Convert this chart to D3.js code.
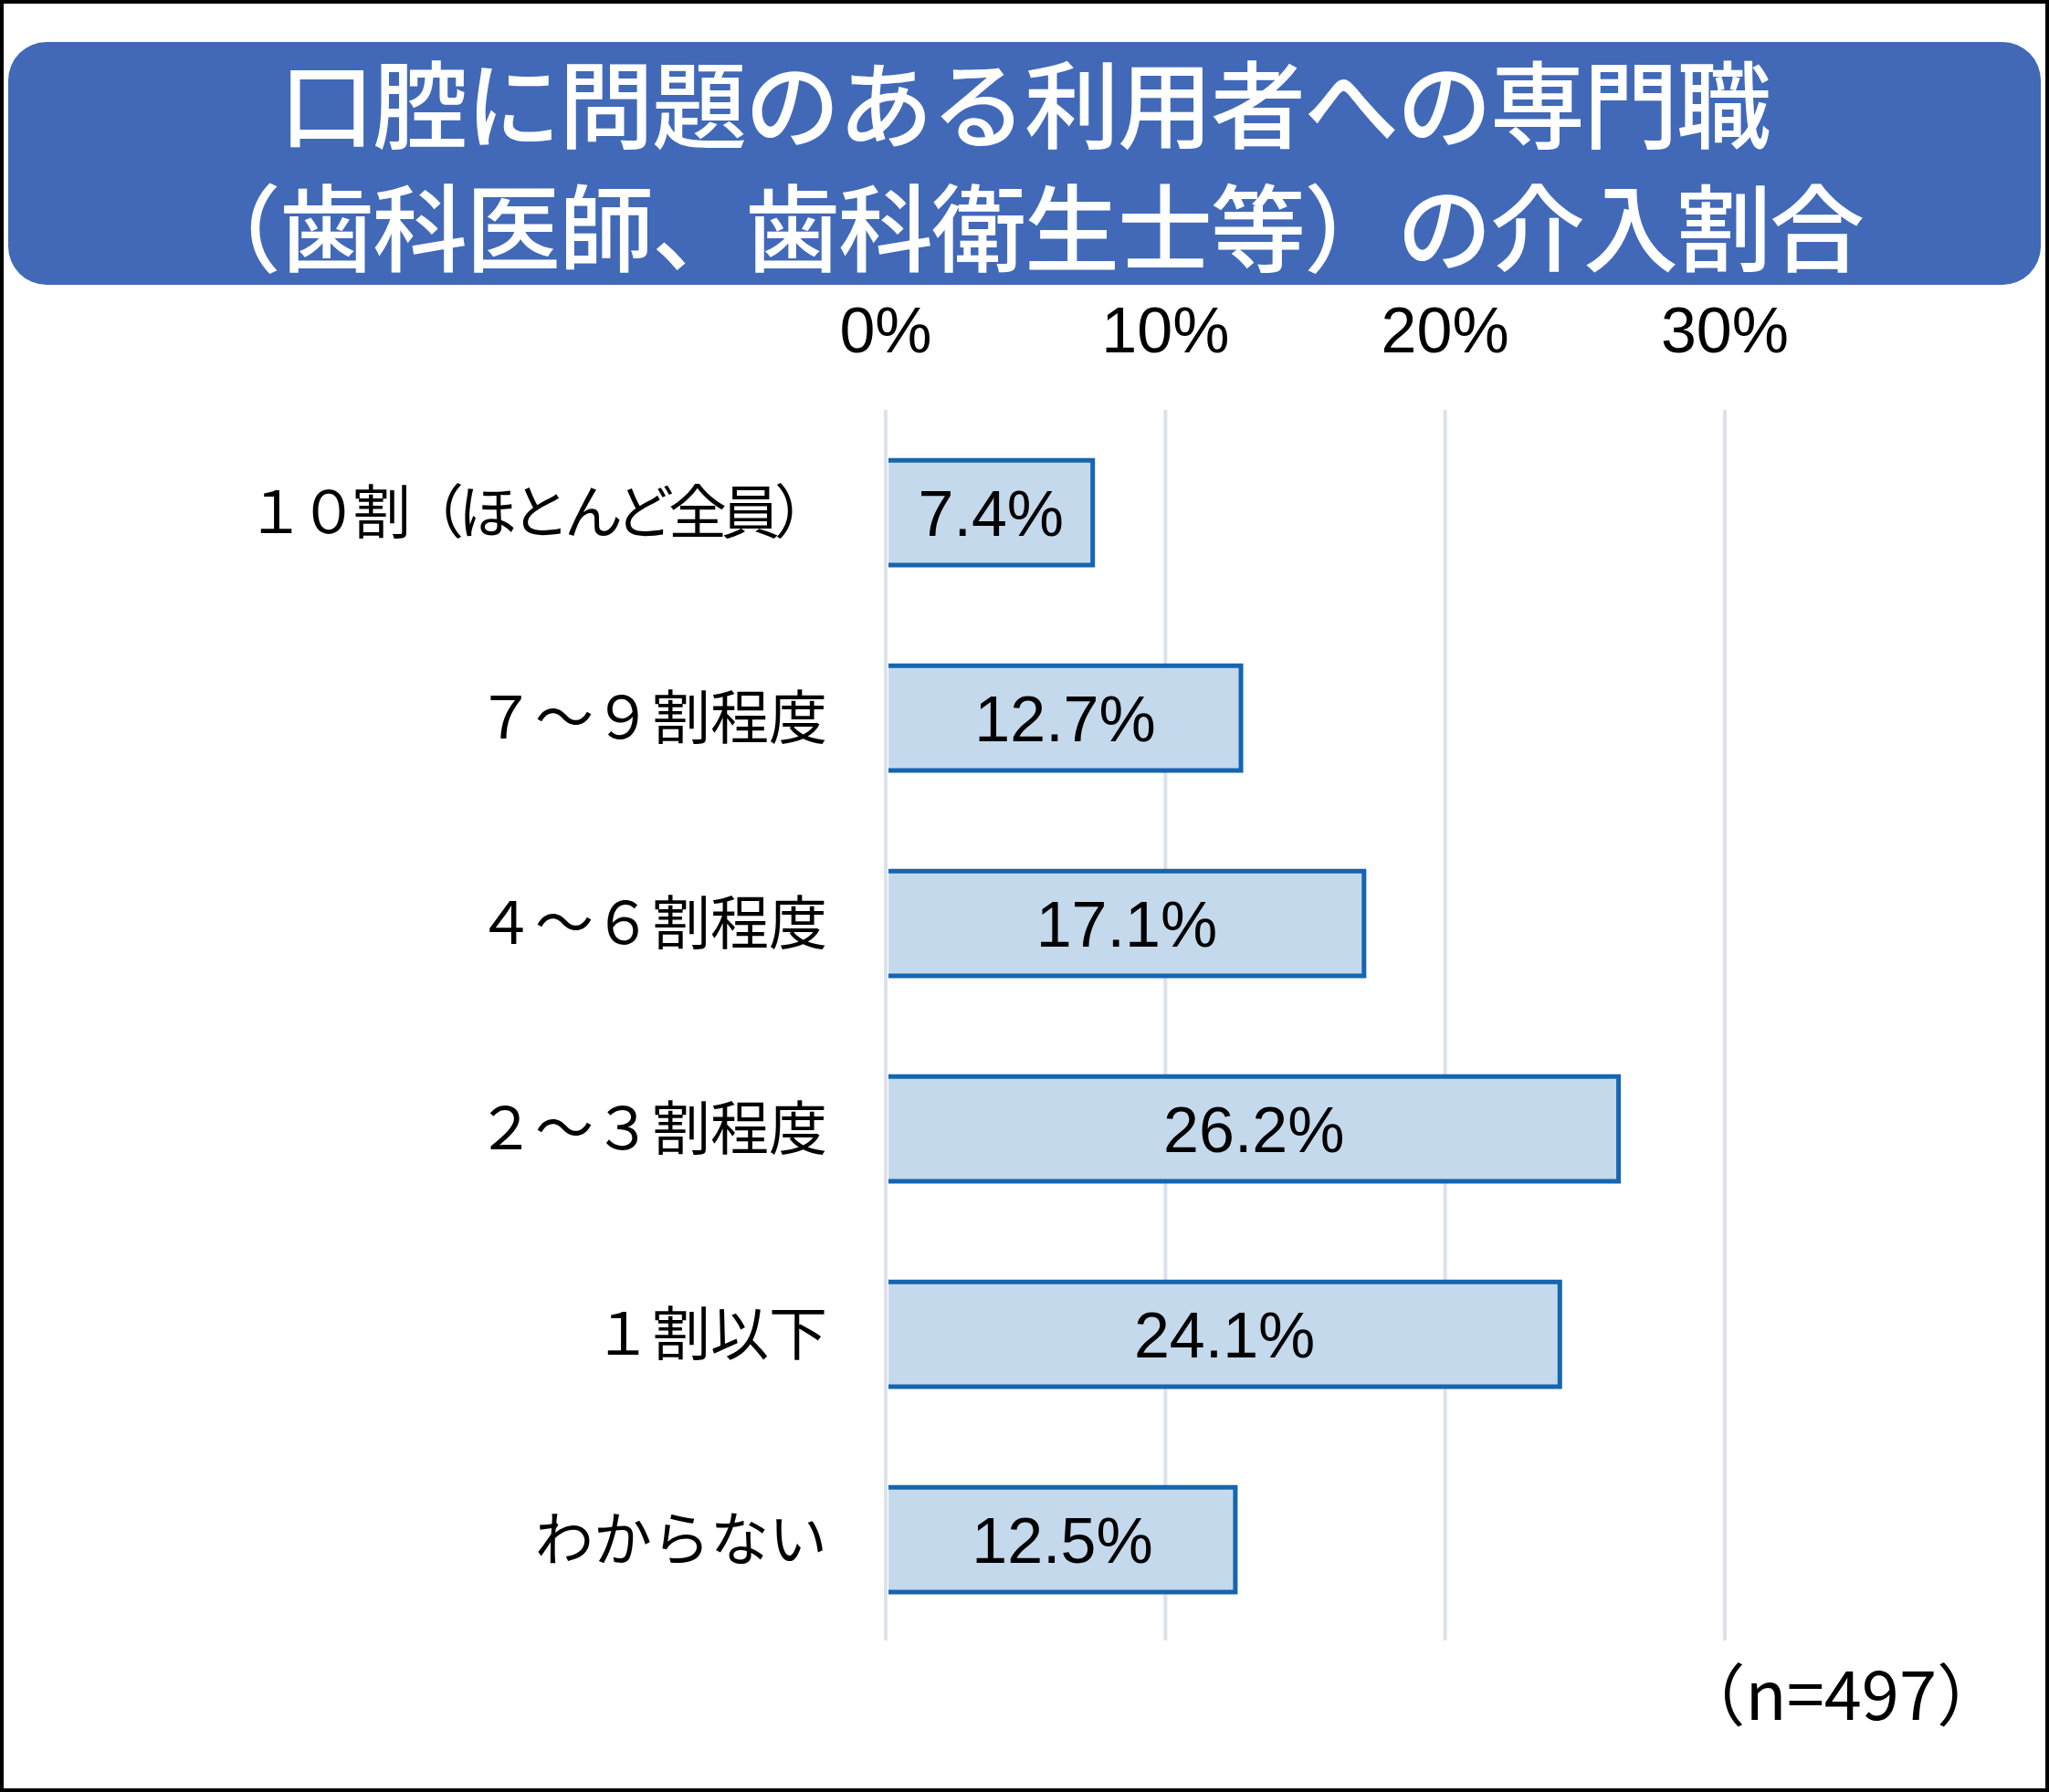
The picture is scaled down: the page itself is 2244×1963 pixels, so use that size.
<!DOCTYPE html>
<html>
<head>
<meta charset="utf-8">
<script src="https://cdn.jsdelivr.net/npm/d3@7"></script>
<style>
  body { margin: 0; background: #fff; }
</style>
</head>
<body>
<svg width="2244" height="1963"></svg>
<script>
// Chart data
const categories = ["１０割（ほとんど全員）", "７～９割程度", "４～６割程度", "２～３割程度", "１割以下", "わからない"];
const values = [7.4, 12.7, 17.1, 26.2, 24.1, 12.5];
const ticks = [0, 10, 20, 30];
const titleLines = ["口腔に問題のある利用者への専門職", "（歯科医師、歯科衛生士等）の介入割合"];
const note = "（n=497）";

const svg = d3.select("svg");
const jp = "'Noto Sans CJK JP', sans-serif";
const latin = "'Liberation Sans', Arial, sans-serif";

// Outer frame
svg.append("rect").attr("x", 2).attr("y", 2).attr("width", 2240).attr("height", 1959)
    .attr("fill", "#fff").attr("stroke", "#000").attr("stroke-width", 4);

// Title banner
svg.append("rect").attr("x", 9).attr("y", 46).attr("width", 2226).attr("height", 266)
    .attr("rx", 42).attr("fill", "#4169b8");
svg.selectAll(".title").data(titleLines).enter().append("text")
    .attr("x", 1122).attr("y", (d, i) => 155 + i * 135)
    .attr("text-anchor", "middle").attr("fill", "#fff")
    .attr("font-family", jp).attr("font-size", 104).attr("font-weight", 500)
    .attr("letter-spacing", -2)
    .text(d => d);

// Scales
const x = d3.scaleLinear().domain([0, 30]).range([970, 1889]);
const y = d3.scaleBand().domain(categories).range([449, 1799]).paddingInner(0.49).paddingOuter(0.245);

// Gridlines
svg.selectAll(".grid").data(ticks).enter().append("line")
    .attr("x1", d => x(d)).attr("x2", d => x(d)).attr("y1", 449).attr("y2", 1797)
    .attr("stroke", "#dde2ea").attr("stroke-width", 4);

// Tick labels on top
svg.selectAll(".tick").data(ticks).enter().append("text")
    .attr("x", d => x(d)).attr("y", 386).attr("text-anchor", "middle")
    .attr("font-family", latin).attr("font-size", 70)
    .text(d => d + "%");

// Bars
const bars = svg.selectAll(".bar").data(values).enter().append("g");
bars.append("rect")
    .attr("x", x(0) + 3).attr("y", (d, i) => y(categories[i]))
    .attr("width", d => x(d) - x(0) - 3).attr("height", y.bandwidth())
    .attr("fill", "#c5d9ed");
bars.append("path")
    .attr("d", (d, i) => {
        const t = y(categories[i]), b = t + y.bandwidth(), r = x(d);
        return `M${x(0) + 3},${t}H${r}V${b}H${x(0) + 3}`;
    })
    .attr("fill", "none").attr("stroke", "#1565b0").attr("stroke-width", 5);
bars.append("text")
    .attr("x", d => (x(0) + x(d)) / 2 + 2).attr("y", (d, i) => y(categories[i]) + y.bandwidth() / 2 + 25)
    .attr("text-anchor", "middle").attr("font-family", latin).attr("font-size", 70)
    .text(d => d.toFixed(1) + "%");

// Category labels
svg.selectAll(".cat").data(categories).enter().append("text")
    .attr("x", 906).attr("y", d => y(d) + y.bandwidth() / 2 + 22)
    .attr("text-anchor", "end").attr("font-family", jp).attr("font-size", 64)
    .attr("letter-spacing", d => d.length > 8 ? -6 : 0)
    .text(d => d);

// Sample size note
svg.append("text").attr("x", 2195).attr("y", 1884).attr("text-anchor", "end")
    .attr("font-family", jp).attr("font-size", 74).text(note);
</script>
</body>
</html>
